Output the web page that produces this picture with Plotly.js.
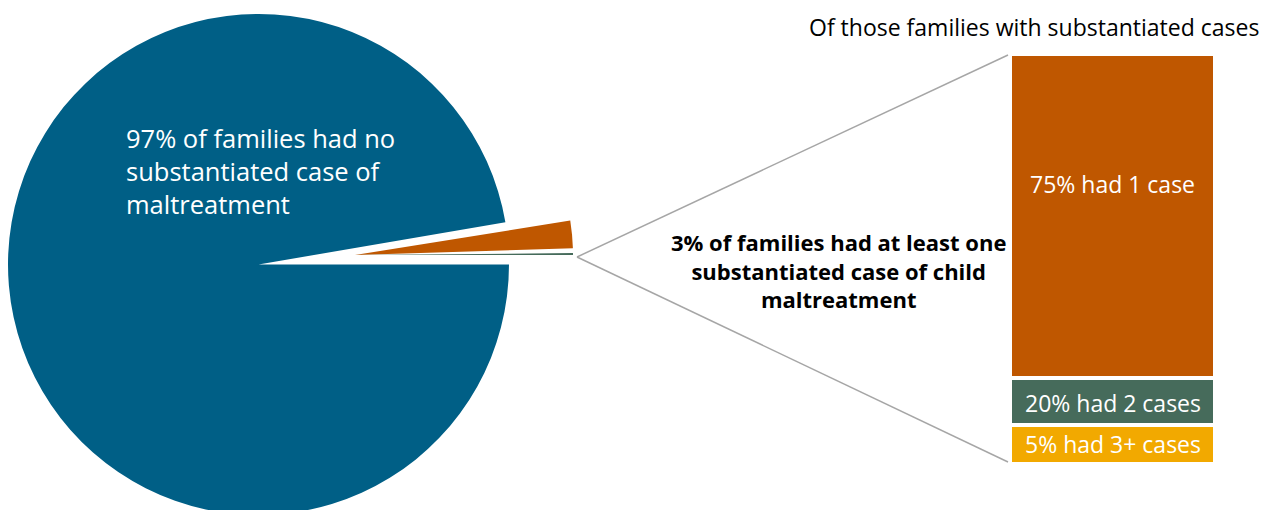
<!DOCTYPE html>
<html>
<head>
<meta charset="utf-8">
<script src="https://cdn.plot.ly/plotly-3.0.1.min.js"></script>
<style>
  html, body { margin: 0; padding: 0; overflow: hidden; background: #ffffff; }
  #chart { width: 1271px; height: 540px; }
</style>
</head>
<body>
<div id="chart"></div>
<script>
// ---- data ----
const pieLabels = ['No substantiated case', 'Substantiated: 1 case', 'Substantiated: 2 cases'];
const pieValues = [97.3, 2.03, 0.14];           // share of the circle, from slice angles
const pieText = ['97% of families had no<br>substantiated case of<br>maltreatment',
                 '3% of families had at least one<br>substantiated case of child<br>maltreatment'];

const barLabels = ['75% had 1 case', '20% had 2 cases', '5% had 3+ cases'];
const barPercents = [75, 20, 5];                 // printed percentages
const barSizes = [79.0, 11.6, 9.4];              // drawn segment lengths (as shown)
const barTitle = 'Of those families with substantiated cases';

// ---- style ----
const BLUE = '#005F86', ORANGE = '#BF5700', GREEN = '#466B5B', YELLOW = '#F2A900', GREY = '#A6A6A6';
const W = 1271, H = 540;
const FONT = 'Open Sans, Noto Sans, sans-serif';

function domX(cx, r) { return [(cx - r) / W, (cx + r) / W]; }
function domY(cy, r) { return [(H - cy - r) / H, (H - cy + r) / H]; }

const clear = 'rgba(0,0,0,0)';
const traces = [
  { type: 'pie', values: [pieValues[0], 100 - pieValues[0]], labels: [pieLabels[0], 'rest'],
    marker: { colors: [BLUE, clear], line: { width: 0 } }, sort: false, direction: 'clockwise',
    rotation: 90, textinfo: 'none', hoverinfo: 'none', showlegend: false,
    domain: { x: domX(258.5, 250.5), y: domY(264.5, 250.5) } },
  { type: 'pie', values: [pieValues[1], 100 - pieValues[1]], labels: [pieLabels[1], 'rest'],
    marker: { colors: [ORANGE, clear], line: { width: 0 } }, sort: false, direction: 'clockwise',
    rotation: 80.9, textinfo: 'none', hoverinfo: 'none', showlegend: false,
    domain: { x: domX(355, 218), y: domY(255, 218) } },
  { type: 'pie', values: [pieValues[2], 100 - pieValues[2]], labels: [pieLabels[2], 'rest'],
    marker: { colors: [GREEN, clear], line: { width: 0 } }, sort: false, direction: 'clockwise',
    rotation: 89.5, textinfo: 'none', hoverinfo: 'none', showlegend: false,
    domain: { x: domX(355, 218), y: domY(255, 218) } }
];

// stacked bar: bottom segment first
const barColors = [ORANGE, GREEN, YELLOW];
for (let i = barSizes.length - 1; i >= 0; i--) {
  traces.push({ type: 'bar', x: [0], y: [barSizes[i]], name: barLabels[i],
    marker: { color: barColors[i], line: { color: '#ffffff', width: 4 } },
    hoverinfo: 'none', showlegend: false, xaxis: 'x', yaxis: 'y' });
}

// cumulative positions for labels
const cum = [];
let acc = 0;
for (let i = barSizes.length - 1; i >= 0; i--) { cum[i] = [acc, acc + barSizes[i]]; acc += barSizes[i]; }
const labelY = [cum[0][0] + barSizes[0] * 0.6, (cum[1][0] + cum[1][1]) / 2 - 0.4, (cum[2][0] + cum[2][1]) / 2 + 0.2];

const annotations = [
  { text: pieText[0], xref: 'paper', yref: 'paper', x: 124 / W, y: (H - 171) / H,
    xanchor: 'left', yanchor: 'middle', align: 'left', showarrow: false,
    font: { family: FONT, size: 25.5, color: '#ffffff' } },
  { text: '<b>' + pieText[1].split('<br>').join('</b><br><b>') + '</b>', xref: 'paper', yref: 'paper',
    x: 838 / W, y: (H - 270) / H, xanchor: 'center', yanchor: 'middle', align: 'center', showarrow: false,
    font: { family: FONT, size: 22, color: '#000000' } },
  { text: barTitle, xref: 'paper', yref: 'paper', x: 1034 / W, y: (H - 27) / H,
    xanchor: 'center', yanchor: 'middle', showarrow: false,
    font: { family: FONT, size: 23, color: '#000000' } }
];
for (let i = 0; i < barLabels.length; i++) {
  annotations.push({ text: barLabels[i], xref: 'x', yref: 'y', x: 0, y: labelY[i],
    xanchor: 'center', yanchor: 'middle', showarrow: false,
    font: { family: FONT, size: 23, color: '#ffffff' } });
}

const tipX = 577 / W, tipY = (H - 257) / H;
const layout = {
  width: W, height: H,
  margin: { l: 0, r: 0, t: 0, b: 0 },
  paper_bgcolor: '#ffffff', plot_bgcolor: '#ffffff',
  barmode: 'stack', bargap: 0,
  xaxis: { domain: [1010 / W, 1215 / W], range: [-0.5, 0.5], visible: false, fixedrange: true },
  yaxis: { domain: [(H - 464) / H, (H - 54) / H], range: [0, 100], visible: false, fixedrange: true },
  shapes: [
    { type: 'line', xref: 'paper', yref: 'paper', x0: tipX, y0: tipY, x1: 1008 / W, y1: (H - 55) / H,
      line: { color: GREY, width: 1.5 } },
    { type: 'line', xref: 'paper', yref: 'paper', x0: tipX, y0: tipY, x1: 1008 / W, y1: (H - 462) / H,
      line: { color: GREY, width: 1.5 } }
  ],
  annotations: annotations,
  showlegend: false
};

Plotly.newPlot('chart', traces, layout, { displayModeBar: false, staticPlot: true });
</script>
</body>
</html>
